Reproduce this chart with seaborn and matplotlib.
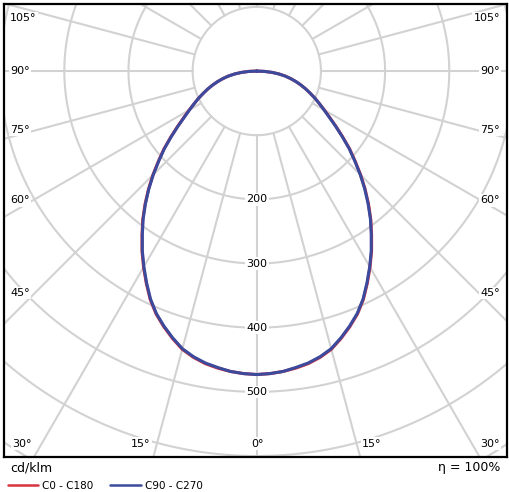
import numpy as np
import pandas as pd
import matplotlib
matplotlib.use('Agg')
import matplotlib.pyplot as plt
import seaborn as sns

# Lichtstärkeverteilung (cd/klm), gamma 0..90 in 2.5°-Schritten
gamma = [0, 2.5, 5, 7.5, 10, 12.5, 15, 17.5, 20, 22.5, 25, 27.5, 30, 32.5, 35, 37.5, 40, 42.5, 45,
         47.5, 50, 52.5, 55, 57.5, 60, 62.5, 65, 67.5, 70, 72.5, 75, 77.5, 80, 82.5, 85, 87.5, 90]
c0_c180 = [473, 472, 470, 467, 463, 457, 449, 437, 424, 410, 393, 373, 353, 333, 312, 292, 271, 250, 229,
           208, 189, 169, 151, 135, 122, 110, 100, 90, 81, 72, 63, 54, 45, 35, 24, 12, 0]
c90_c270 = [473, 472, 470, 466, 462, 456, 448, 436, 423, 409, 392, 372, 352, 332, 311, 291, 270, 249, 228,
            207, 188, 168, 150, 134, 121, 110, 100, 90, 81, 72, 63, 54, 45, 35, 24, 12, 0]

ring_values = [100, 200, 300, 400, 500, 600, 700, 800]
ring_labels = [200, 300, 400, 500]
spoke_angles = list(range(0, 360, 15))

# Winkelbeschriftungen (Achsenkoordinaten)
side_labels = ['105°', '90°', '75°', '60°', '45°']
side_y = [0.969, 0.852, 0.722, 0.567, 0.362]
bottom_labels = ['30°', '15°', '0°', '15°', '30°']
bottom_x = [0.036, 0.272, 0.503, 0.731, 0.966]

line_colors = {'C0 - C180': '#d8333f', 'C90 - C270': '#3b4a9c'}
grid_color = '#d2d2d2'

sns.set_style('white')
plt.rcParams['font.family'] = ['DejaVu Sans']
plt.rcParams['text.color'] = 'black'


def plane_curve(values, name):
    th = np.radians(np.concatenate([-np.array(gamma[::-1]), np.array(gamma[1:])]))
    r = np.concatenate([np.array(values[::-1]), np.array(values[1:])])
    return pd.DataFrame({'x': r * np.sin(th), 'y': -r * np.cos(th), 'plane': name})


df = pd.concat([plane_curve(c0_c180, 'C0 - C180'),
                plane_curve(c90_c270, 'C90 - C270')], ignore_index=True)

fig = plt.figure(figsize=(5.1, 4.92), dpi=100)
ax = fig.add_axes([4 / 510, 1 - 457 / 492, 503 / 510, 453 / 492])

# Kreise
t = np.linspace(0, 2 * np.pi, 721)
for rv in ring_values:
    ax.plot(rv * np.cos(t), rv * np.sin(t), color=grid_color, lw=1.5, zorder=1)

# Speichen ab dem 100er Kreis
for a in spoke_angles:
    ar = np.radians(a)
    ax.plot([100 * np.sin(ar), 1200 * np.sin(ar)], [-100 * np.cos(ar), -1200 * np.cos(ar)],
            color=grid_color, lw=1.5, zorder=1)

sns.lineplot(data=df, x='x', y='y', hue='plane', palette=line_colors, sort=False,
             estimator=None, lw=2.2, legend=False, ax=ax, zorder=3)

box = dict(facecolor='white', edgecolor='none', pad=1.0)
for rl in ring_labels:
    ax.text(0, -rl, str(rl), ha='center', va='center', fontsize=8, bbox=box, zorder=2)

for lab, yy in zip(side_labels, side_y):
    ax.text(0.012, yy, lab, transform=ax.transAxes, ha='left', va='center', fontsize=8, bbox=box, zorder=2)
    ax.text(0.986, yy, lab, transform=ax.transAxes, ha='right', va='center', fontsize=8, bbox=box, zorder=2)
for lab, xx in zip(bottom_labels, bottom_x):
    ax.text(xx, 0.029, lab, transform=ax.transAxes, ha='center', va='center', fontsize=8, bbox=box, zorder=2)

ax.set_aspect('equal', adjustable='box')
ax.set_xlim(-394, 390)
ax.set_ylim(-601, 104)
ax.set_xticks([])
ax.set_yticks([])
ax.set_xlabel('')
ax.set_ylabel('')
for sp in ax.spines.values():
    sp.set_color('black')
    sp.set_linewidth(1.6)

fig.text(10 / 510, 1 - 468 / 492, 'cd/klm', fontsize=9, ha='left', va='center')
fig.text(500 / 510, 1 - 468 / 492, 'η = 100%', fontsize=9, ha='right', va='center')

handles = [plt.Line2D([], [], color=c, lw=1.8) for c in line_colors.values()]
fig.legend(handles, list(line_colors.keys()), loc='center left', bbox_to_anchor=(8 / 510, 1 - 486 / 492),
           ncol=2, frameon=False, fontsize=7.5, handlelength=2.9, handletextpad=0.4,
           columnspacing=1.6, borderpad=0, borderaxespad=0)

fig.savefig('out.png', dpi=100)
